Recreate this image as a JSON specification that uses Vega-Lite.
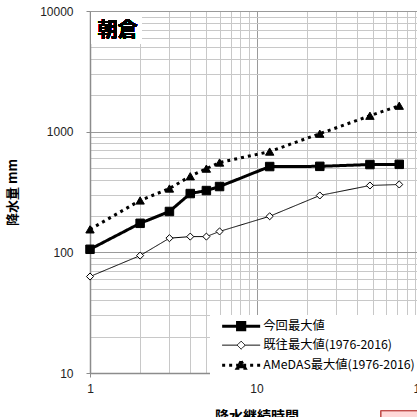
{
  "$schema": "https://vega.github.io/schema/vega-lite/v6.json",
  "width": 333,
  "height": 362,
  "autosize": "none",
  "padding": {"left": 90, "top": 11, "right": 0, "bottom": 44},
  "background": "white",
  "config": {"view": {"stroke": null}, "font": "Liberation Sans"},
  "data": {"values": [
    {"series": "今回最大値", "x": 1, "y": 106},
    {"series": "今回最大値", "x": 2, "y": 174},
    {"series": "今回最大値", "x": 3, "y": 218},
    {"series": "今回最大値", "x": 4, "y": 307},
    {"series": "今回最大値", "x": 5, "y": 325},
    {"series": "今回最大値", "x": 6, "y": 351},
    {"series": "今回最大値", "x": 12, "y": 514},
    {"series": "今回最大値", "x": 24, "y": 516},
    {"series": "今回最大値", "x": 48, "y": 534},
    {"series": "今回最大値", "x": 72, "y": 536},
    {"series": "既往最大値(1976-2016)", "x": 1, "y": 63},
    {"series": "既往最大値(1976-2016)", "x": 2, "y": 94},
    {"series": "既往最大値(1976-2016)", "x": 3, "y": 131},
    {"series": "既往最大値(1976-2016)", "x": 4, "y": 135},
    {"series": "既往最大値(1976-2016)", "x": 5, "y": 135},
    {"series": "既往最大値(1976-2016)", "x": 6, "y": 149},
    {"series": "既往最大値(1976-2016)", "x": 12, "y": 199},
    {"series": "既往最大値(1976-2016)", "x": 24, "y": 296},
    {"series": "既往最大値(1976-2016)", "x": 48, "y": 358},
    {"series": "既往最大値(1976-2016)", "x": 72, "y": 365},
    {"series": "AMeDAS最大値(1976-2016)", "x": 1, "y": 155},
    {"series": "AMeDAS最大値(1976-2016)", "x": 2, "y": 269},
    {"series": "AMeDAS最大値(1976-2016)", "x": 3, "y": 338},
    {"series": "AMeDAS最大値(1976-2016)", "x": 4, "y": 427},
    {"series": "AMeDAS最大値(1976-2016)", "x": 5, "y": 494},
    {"series": "AMeDAS最大値(1976-2016)", "x": 6, "y": 555},
    {"series": "AMeDAS最大値(1976-2016)", "x": 12, "y": 684},
    {"series": "AMeDAS最大値(1976-2016)", "x": 24, "y": 962},
    {"series": "AMeDAS最大値(1976-2016)", "x": 48, "y": 1355},
    {"series": "AMeDAS最大値(1976-2016)", "x": 72, "y": 1641}
  ]},
  "layer": [
    {
      "mark": {"type": "line", "strokeCap": "butt", "color": "black"},
      "encoding": {
        "x": {"field": "x", "type": "quantitative",
          "scale": {"type": "log", "domain": [1, 100], "nice": false},
          "axis": {
            "values": [1,2,3,4,5,6,7,8,9,10,20,30,40,50,60,70,80,90,100],
            "format": "d",
            "labelExpr": "datum.value==1||datum.value==10||datum.value==100 ? datum.label : ''",
            "grid": true,
            "gridColor": {"condition": {"test": "datum.value==1||datum.value==10||datum.value==100", "value": "#9a9a9a"}, "value": "#c8c8c8"},
            "gridWidth": 1,
            "tickOpacity": {"condition": {"test": "datum.value==1||datum.value==10||datum.value==100", "value": 1}, "value": 0},
            "tickColor": "#8c8c8c", "tickSize": 4,
            "domainColor": "#8c8c8c", "domainWidth": 1.5,
            "labelPadding": 6, "labelFontSize": 12, "labelColor": "#222", "labelFont": "Liberation Sans",
            "labelFlush": false,
            "title": "降水継続時間",
            "titleFont": "Noto Sans CJK JP", "titleFontWeight": "bold", "titleFontSize": 14,
            "titleColor": "black", "titleY": 43, "titleBaseline": "middle"
          }
        },
        "y": {"field": "y", "type": "quantitative",
          "scale": {"type": "log", "domain": [10, 10000], "nice": false},
          "axis": {
            "values": [10,20,30,40,50,60,70,80,90,100,200,300,400,500,600,700,800,900,1000,2000,3000,4000,5000,6000,7000,8000,9000,10000],
            "format": "d",
            "labelExpr": "datum.value==10||datum.value==100||datum.value==1000||datum.value==10000 ? datum.label : ''",
            "grid": true,
            "gridColor": {"condition": {"test": "datum.value==10||datum.value==100||datum.value==1000||datum.value==10000", "value": "#9a9a9a"}, "value": "#c8c8c8"},
            "gridWidth": 1,
            "tickOpacity": {"condition": {"test": "datum.value==10||datum.value==100||datum.value==1000||datum.value==10000", "value": 1}, "value": 0},
            "tickColor": "#8c8c8c", "tickSize": 4,
            "domainColor": "#8c8c8c", "domainWidth": 1.5,
            "labelPadding": 13, "labelFontSize": 12, "labelColor": "#222", "labelFont": "Liberation Sans",
            "labelFlush": false,
            "title": "降水量 mm",
            "titleFont": "Noto Sans CJK JP", "titleFontWeight": "bold", "titleFontSize": 13,
            "titleColor": "black", "titleX": -78, "titleBaseline": "middle"
          }
        },
        "detail": {"field": "series"},
        "strokeWidth": {"field": "series", "type": "nominal", "legend": null,
          "scale": {"type": "ordinal", "domain": ["今回最大値", "既往最大値(1976-2016)", "AMeDAS最大値(1976-2016)"], "range": [3, 1, 3]}},
        "strokeDash": {"field": "series", "type": "nominal", "legend": null,
          "scale": {"domain": ["今回最大値", "既往最大値(1976-2016)", "AMeDAS最大値(1976-2016)"], "range": [[1, 0], [1, 0], [3, 4]]}}
      }
    },
    {
      "mark": {"type": "point", "filled": true, "stroke": "black", "strokeWidth": 1, "opacity": 1},
      "encoding": {
        "x": {"field": "x", "type": "quantitative", "scale": {"type": "log", "domain": [1, 100], "nice": false}, "axis": null},
        "y": {"field": "y", "type": "quantitative", "scale": {"type": "log", "domain": [10, 10000], "nice": false}, "axis": null},
        "shape": {"field": "series", "type": "nominal", "legend": null,
          "scale": {"domain": ["今回最大値", "既往最大値(1976-2016)", "AMeDAS最大値(1976-2016)"], "range": ["square", "diamond", "triangle-up"]}},
        "fill": {"field": "series", "type": "nominal", "legend": null,
          "scale": {"domain": ["今回最大値", "既往最大値(1976-2016)", "AMeDAS最大値(1976-2016)"], "range": ["black", "white", "black"]}},
        "size": {"field": "series", "type": "nominal", "legend": null,
          "scale": {"type": "ordinal", "domain": ["今回最大値", "既往最大値(1976-2016)", "AMeDAS最大値(1976-2016)"], "range": [72, 50, 70]}}
      }
    },
    {
      "mark": {"type": "rect", "fill": "white"},
      "encoding": {
        "x": {"datum": 1.02, "type": "quantitative", "scale": {"type": "log", "domain": [1, 100], "nice": false}, "axis": null},
        "x2": {"datum": 2.05},
        "y": {"datum": 9700, "type": "quantitative", "scale": {"type": "log", "domain": [10, 10000], "nice": false}, "axis": null},
        "y2": {"datum": 5335}
      }
    },
    {
      "mark": {"type": "rect", "fill": "#ffd8d8", "stroke": "#c0504d", "strokeWidth": 1, "clip": false},
      "encoding": {
        "x": {"datum": 56, "type": "quantitative", "scale": {"type": "log", "domain": [1, 100], "nice": false}, "axis": null},
        "x2": {"datum": 200},
        "y": {"datum": 4.85, "type": "quantitative", "scale": {"type": "log", "domain": [10, 10000], "nice": false}, "axis": null},
        "y2": {"datum": 1}
      }
    },
    {
      "mark": {"type": "text", "font": "Noto Sans CJK JP", "fontWeight": "bold", "fontSize": 20, "color": "black", "align": "center", "baseline": "middle"},
      "encoding": {
        "x": {"datum": 1.47, "type": "quantitative", "scale": {"type": "log", "domain": [1, 100], "nice": false}, "axis": null},
        "y": {"datum": 6840, "type": "quantitative", "scale": {"type": "log", "domain": [10, 10000], "nice": false}, "axis": null},
        "text": {"value": "朝倉"}
      }
    },
    {
      "mark": {"type": "point", "opacity": 0, "filled": false, "stroke": "black"},
      "encoding": {
        "x": {"field": "x", "type": "quantitative", "scale": {"type": "log", "domain": [1, 100], "nice": false}, "axis": null},
        "y": {"field": "y", "type": "quantitative", "scale": {"type": "log", "domain": [10, 10000], "nice": false}, "axis": null},
        "shape": {"field": "series", "type": "nominal",
          "scale": {"domain": ["今回最大値", "既往最大値(1976-2016)", "AMeDAS最大値(1976-2016)"],
            "range": ["M-4.75,0H4.75M-0.9,-0.9H0.9V0.9H-0.9Z", "M-4.75,0H-1M1,0H4.75M0,-1L1,0L0,1L-1,0Z", "M-4.75,0H4.75M0,-1L1,0.8H-1Z"]},
          "legend": {
            "title": null, "orient": "none", "legendX": 120, "legendY": 304,
            "fillColor": "white", "padding": 5, "symbolSize": 64, "symbolOffset": 20,
            "symbolOpacity": 1,
            "labelFont": "Noto Sans CJK JP", "labelFontSize": 12.3, "labelColor": "black",
            "labelOffset": 16, "rowPadding": 3, "labelLimit": 300
          }
        },
        "fill": {"field": "series", "type": "nominal",
          "scale": {"domain": ["今回最大値", "既往最大値(1976-2016)", "AMeDAS最大値(1976-2016)"], "range": ["black", "white", "black"]}},
        "strokeWidth": {"field": "series", "type": "nominal",
          "scale": {"type": "ordinal", "domain": ["今回最大値", "既往最大値(1976-2016)", "AMeDAS最大値(1976-2016)"], "range": [3, 1, 3]}},
        "strokeDash": {"field": "series", "type": "nominal",
          "scale": {"domain": ["今回最大値", "既往最大値(1976-2016)", "AMeDAS最大値(1976-2016)"], "range": [[1, 0], [1, 0], [3, 4]]}}
      }
    }
  ],
  "resolve": {
    "scale": {"shape": "independent", "size": "independent", "fill": "independent", "strokeWidth": "independent", "strokeDash": "independent"},
    "axis": {"x": "independent", "y": "independent"},
    "legend": {"shape": "independent", "fill": "independent", "strokeWidth": "independent", "strokeDash": "independent", "size": "independent"}
  }
}
